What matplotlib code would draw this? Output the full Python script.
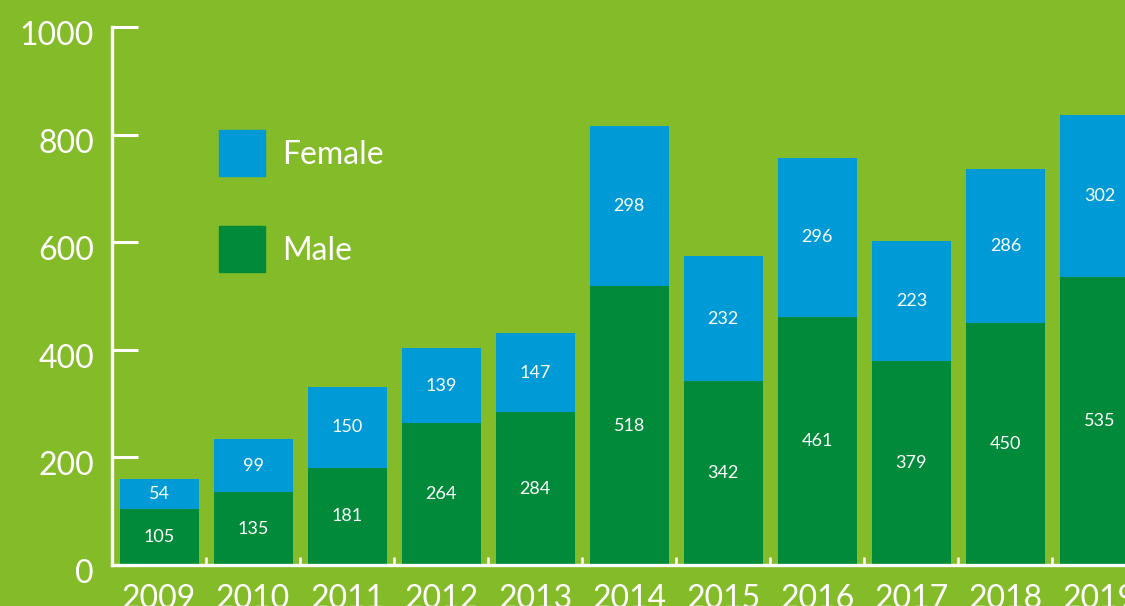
import numpy as np
import matplotlib.pyplot as plt
import matplotlib.transforms as mtransforms
from matplotlib.patches import Rectangle

years = ["2009", "2010", "2011", "2012", "2013", "2014", "2015", "2016", "2017", "2018", "2019"]
male = [105, 135, 181, 264, 284, 518, 342, 461, 379, 450, 535]
female = [54, 99, 150, 139, 147, 298, 232, 296, 223, 286, 302]
yticks = [0, 200, 400, 600, 800, 1000]
series_names = ["Female", "Male"]

BG = "#84bb28"
BLUE = "#009bd6"
GREEN = "#008a3a"

plt.rcParams['font.family'] = ['Lato', 'DejaVu Sans']

W, H = 1125, 606
fig = plt.figure(figsize=(W / 100, H / 100), dpi=100)
fig.patch.set_facecolor(BG)

# axes placed in pixel terms so the chart is cropped like the reference
ax = fig.add_axes([112 / W, 41 / H, (W - 112) / W, (565 - 27) / H])
ax.set_facecolor(BG)

x = np.arange(len(years))
ax.bar(x, male, width=0.84, color=GREEN, zorder=2)
ax.bar(x, female, width=0.84, bottom=male, color=BLUE, zorder=2)

for i in range(len(years)):
    ax.text(x[i], male[i] / 2, str(male[i]), ha="center", va="center",
            color="white", fontsize=13)
    ax.text(x[i], male[i] + female[i] / 2, str(female[i]), ha="center",
            va="center", color="white", fontsize=13)

ax.set_xlim(-0.5, (W - 159.5) / 94)
ax.set_ylim(0, 1000)

for s in ["top", "right"]:
    ax.spines[s].set_visible(False)
for s in ["left", "bottom"]:
    ax.spines[s].set_color("white")
    ax.spines[s].set_linewidth(2.4)
    ax.spines[s].set_zorder(3)

ax.set_yticks(yticks)
ax.set_yticklabels([str(v) for v in yticks])
ax.tick_params(axis="y", direction="in", length=19, width=2.2, color="white",
               labelcolor="white", labelsize=23, pad=13)
ax.set_xticks(x)
ax.set_xticklabels(years)
ax.set_xticks(x[:-1] + 0.5, minor=True)
ax.tick_params(axis="x", which="major", length=0, labelcolor="white",
               labelsize=23, pad=14)
ax.tick_params(axis="x", which="minor", direction="in", length=6, width=1.8,
               color="white")

off = mtransforms.ScaledTranslation(0, -6 / 100, fig.dpi_scale_trans)
for lab in ax.get_yticklabels():
    lab.set_transform(lab.get_transform() + off)

# legend
for j, (name, col) in enumerate(zip(series_names, [BLUE, GREEN])):
    top = 130 + j * 96
    fig.patches.append(Rectangle((219 / W, 1 - (top + 46) / H), 46 / W, 46 / H,
                                 transform=fig.transFigure, color=col))
    fig.text(282 / W, 1 - (top + 25) / H, name, color="white", fontsize=23,
             va="center", ha="left")

fig.savefig("out.png", dpi=100, facecolor=BG)
